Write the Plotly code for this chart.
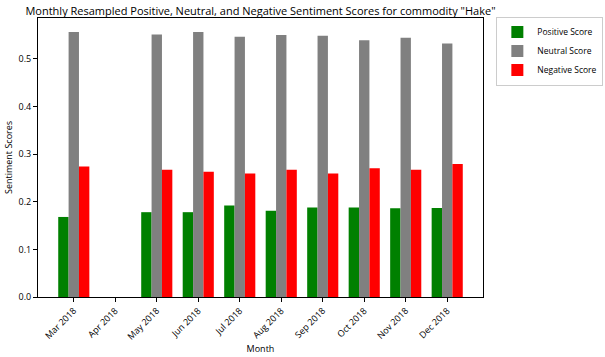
import plotly.graph_objects as go

months = ["Mar 2018", "Apr 2018", "May 2018", "Jun 2018", "Jul 2018",
          "Aug 2018", "Sep 2018", "Oct 2018", "Nov 2018", "Dec 2018"]
positive = [0.168, None, 0.178, 0.178, 0.192, 0.181, 0.188, 0.188, 0.186, 0.187]
neutral = [0.556, None, 0.551, 0.556, 0.546, 0.550, 0.548, 0.539, 0.544, 0.532]
negative = [0.274, None, 0.267, 0.263, 0.259, 0.267, 0.259, 0.270, 0.267, 0.279]
y_ticks = [0.0, 0.1, 0.2, 0.3, 0.4, 0.5]

FONT = "Open Sans"

fig = go.Figure()
for name, vals, col in [("Positive Score", positive, "green"),
                        ("Neutral Score", neutral, "grey"),
                        ("Negative Score", negative, "red")]:
    fig.add_trace(go.Bar(x=months, y=vals, name=name, marker=dict(color=col, line=dict(width=0))))

fig.update_layout(
    width=605, height=357,
    barmode="group", bargap=0.25, bargroupgap=0,
    plot_bgcolor="white", paper_bgcolor="white",
    margin=dict(l=38, r=122, t=18, b=60, autoexpand=False),
    font=dict(family=FONT, size=9, color="black"),
    title=dict(text='Monthly Resampled Positive, Neutral, and Negative Sentiment Scores for commodity "Hake"',
               x=(38 + 483) / 2 / 605, xanchor="center", y=1 - 11 / 357, yanchor="middle",
               font=dict(family=FONT, size=11, color="black")),
    legend=dict(x=1.03, xanchor="left", y=1.005, yanchor="top",
                bordercolor="#cccccc", borderwidth=1, bgcolor="white",
                font=dict(family=FONT, size=8.5), tracegroupgap=0, itemwidth=30),
    xaxis=dict(range=[-0.8625, 9.8625], showline=True, linecolor="black", linewidth=1,
               mirror=True, ticks="outside", ticklen=4, tickcolor="black", tickangle=-45,
               title=dict(text="Month", font=dict(family=FONT, size=9), standoff=4),
               tickfont=dict(family=FONT, size=9), showgrid=False),
    yaxis=dict(range=[0, 0.5855], showline=True, linecolor="black", linewidth=1,
               mirror=True, ticks="outside", ticklen=4, tickcolor="black",
               tickvals=y_ticks, tickformat=".1f", showgrid=False, zeroline=False,
               title=dict(text="Sentiment Scores", font=dict(family=FONT, size=9), standoff=4),
               tickfont=dict(family=FONT, size=9)),
)

fig.write_html("out.html", config={"displayModeBar": False},
               post_script="document.body.style.margin='0';")
